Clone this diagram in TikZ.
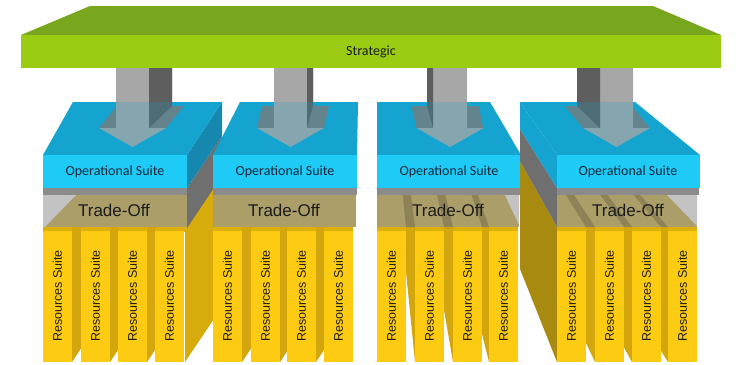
\documentclass[tikz,border=0pt]{standalone}
\usepackage{fontspec}
\setmainfont{Carlito}
\newfontfamily\squarefont{Liberation Sans}
\usetikzlibrary{calc}

\definecolor{slabTop}{HTML}{78A61C}
\definecolor{slabFront}{HTML}{9BCB12}
\definecolor{opTop}{HTML}{14A4CF}
\definecolor{opFront}{HTML}{1ECBF7}
\definecolor{opSide}{HTML}{1688AF}
\definecolor{arrLight}{HTML}{A7A7A7}
\definecolor{arrDark}{HTML}{5E5E5E}
\definecolor{arrHead}{HTML}{7B7B7B}
\definecolor{toStrip}{HTML}{8B8B8B}
\definecolor{toFront}{HTML}{AB9E68}
\definecolor{toSide}{HTML}{6F6F6F}
\definecolor{toPale}{HTML}{C3C3C3}
\definecolor{resFront}{HTML}{FDCC12}
\definecolor{resTop}{HTML}{DDB00E}
\definecolor{resGap}{HTML}{D2A60C}
\definecolor{resSideA}{HTML}{D8AB0C}
\definecolor{resSideB}{HTML}{A98A10}
\definecolor{ink}{HTML}{1C1C1C}
\definecolor{opInk}{HTML}{17263A}

\tikzset{
  optext/.style={font=\fontsize{14}{16}\selectfont, text=opInk, inner sep=0pt},
  totext/.style={font=\squarefont\fontsize{17}{19}\selectfont, text=ink, inner sep=0pt},
  restext/.style={font=\squarefont\fontsize{12.5}{14}\selectfont, text=ink, rotate=90, inner sep=0pt},
  stripe/.style={fill=black, opacity=0.17},
}

% 3D arrow: shaft from x=#1 to #2, visible side face on edge #3 with depth #4, head depth #5
\newcommand{\solidarrow}[5]{%
  \fill[arrHead] ({(#1+#2)/2-33.5},128) -- ({(#1+#2)/2+33.5},128)
     -- ({(#1+#2)/2+33.5+#5},106) -- ({(#1+#2)/2-33.5+#5},106) -- cycle;
  \fill[arrLight] (#1,68) rectangle (#2,128);
  \fill[arrDark] (#3,68) -- ({#3+#4},68) -- ({#3+#4},106) -- (#3,128) -- cycle;
  \fill[arrLight] ({(#1+#2)/2-33.5},128) -- ({(#1+#2)/2+33.5},128)
     -- ({(#1+#2)/2},147) -- cycle;
}
\newcommand{\glassarrow}[5]{%
  \begin{scope}[transparency group, opacity=0.78]
    \solidarrow{#1}{#2}{#3}{#4}{#5}
  \end{scope}
}

\begin{document}
\begin{tikzpicture}[x=1pt, y=-1pt]
\useasboundingbox (0,0) rectangle (741,364);

% ---------- strategic slab ----------
\fill[slabTop] (90,6) -- (653,6) -- (721,35) -- (21,35) -- cycle;
\fill[slabFront] (21,35) rectangle (721,68);
\node[font=\fontsize{14}{16}\selectfont, text=ink] (strategic) at (371,51.5) {Strategic};

% ---------- column 1 ----------
\fill[resSideA] (185,228) -- (220,176) -- (220,310) -- (185,362) -- cycle;
\fill[toSide] (187,188) -- (222,136) -- (222,176) -- (187,228) -- cycle;
\fill[opSide] (187,155) -- (222,102) -- (222,136) -- (187,188) -- cycle;
\fill[resTop] (43,226) rectangle (185,232);
\foreach \ra/\lb/\yb in {72/81/348.6, 110/118/350, 147/155/350}
  \fill[resGap] (\ra,226) -- (\lb,226) -- (\lb,\yb) -- (\ra,362) -- cycle;
\foreach \xl [count=\i] in {43,81,118,155} {
  \fill[resFront] (\xl,231) rectangle ({\xl+29},362);
  \node[restext] (ra\i) at ({\xl+14.5},296) {Resources Suite};
}
\fill[toStrip] (43,188) rectangle (187,195);
\fill[toFront] (43,195) rectangle (187,227);
\fill[toPale] (43,195) -- (76,195) -- (45,227) -- (43,227) -- cycle;
\node[totext] (to1) at (114,210) {Trade-Off};
\solidarrow{116}{149}{149}{23}{18}
\fill[opTop] (73,102) -- (222,102) -- (187,155) -- (43,155) -- cycle;
\fill[opFront] (43,155) rectangle (187,188);
\node[optext] (op1) at (115,172) {Operational Suite};
\glassarrow{116}{149}{149}{23}{18}

% ---------- column 2 ----------
\fill[resTop] (213,226) rectangle (353,232);
\foreach \ra/\lb/\yb in {242/251/348.6, 280/287/351.5, 316/324/350}
  \fill[resGap] (\ra,226) -- (\lb,226) -- (\lb,\yb) -- (\ra,362) -- cycle;
\foreach \xl [count=\i] in {213,251,287,324} {
  \fill[resFront] (\xl,231) rectangle ({\xl+29},362);
  \node[restext] (rb\i) at ({\xl+14.5},296) {Resources Suite};
}
\fill[toStrip] (213,188) rectangle (357,195);
\fill[toFront] (213,195) rectangle (356,227);
\node[totext] (to2) at (284,210) {Trade-Off};
\solidarrow{274}{307}{307}{6}{5}
\fill[opTop] (240,102) -- (358,102) -- (357,155) -- (213,155) -- cycle;
\fill[opFront] (213,155) rectangle (357,188);
\node[optext] (op2) at (285,172) {Operational Suite};
\glassarrow{274}{307}{307}{6}{5}

% ---------- column 3 ----------
\fill[resTop] (377,226) rectangle (518,232);
\foreach \ra/\lb/\yb in {406/415/272, 444/453/310, 482/489/334}
  \fill[resGap] (\ra,226) -- (\lb,226) -- (\lb,362) -- (\ra,\yb) -- cycle;
\foreach \xl [count=\i] in {377,415,453,489} {
  \fill[resFront] (\xl,231) rectangle ({\xl+29},362);
  \node[restext] (rc\i) at ({\xl+14.5},296) {Resources Suite};
}
\fill[toStrip] (377,188) rectangle (521,195);
\fill[toFront] (377,195) rectangle (519,227);
\foreach \a/\b/\c/\d in {406/415/410.9/402.7, 444/453/445.3/437.1, 482/489/477.9/471.6}
  \fill[stripe] (\a,227) -- (\b,227) -- (\c,195) -- (\d,195) -- cycle;
\fill[toPale] (505,195) -- (519,195) -- (519,225) -- cycle;
\node[totext] (to3) at (448,210) {Trade-Off};
\solidarrow{433}{467}{433}{-6}{-5}
\fill[opTop] (377,102) -- (490,102) -- (521,155) -- (377,155) -- cycle;
\fill[opFront] (377,155) rectangle (521,188);
\node[optext] (op3) at (449,172) {Operational Suite};
\glassarrow{433}{467}{433}{-6}{-5}

% ---------- column 4 ----------
\fill[resSideB] (557,227) -- (520,161) -- (520,269) -- (557,362) -- cycle;
\fill[toSide] (557,188) -- (520,129) -- (520,161) -- (557,227) -- cycle;
\fill[opTop] (520,102) -- (557,155) -- (557,188) -- (520,129) -- cycle;
\fill[resTop] (557,226) rectangle (697,232);
\foreach \ra/\lb/\yb in {586/595/343, 624/632/347.5, 661/668/350.8}
  \fill[resGap] (\ra,226) -- (\lb,226) -- (\lb,362) -- (\ra,\yb) -- cycle;
\foreach \xl [count=\i] in {557,595,632,668} {
  \fill[resFront] (\xl,231) rectangle ({\xl+29},362);
  \node[restext] (rd\i) at ({\xl+14.5},296) {Resources Suite};
}
\fill[toStrip] (557,188) rectangle (699,195);
\fill[toFront] (557,195) rectangle (697,227);
\foreach \a/\b/\c/\d in {586/595/573.9/565.8, 624/632/607.5/600.2, 661/668/640.1/633.7}
  \fill[stripe] (\a,227) -- (\b,227) -- (\c,195) -- (\d,195) -- cycle;
\fill[toPale] (667,195) -- (697,195) -- (697,226) -- cycle;
\node[totext] (to4) at (628,210) {Trade-Off};
\solidarrow{600}{633}{600}{-23}{-18}
\fill[opTop] (520,102) -- (635,102) -- (700,155) -- (557,155) -- cycle;
\fill[opFront] (557,155) rectangle (700,188);
\node[optext] (op4) at (628,172) {Operational Suite};
\glassarrow{600}{633}{600}{-23}{-18}

\end{tikzpicture}
\end{document}
